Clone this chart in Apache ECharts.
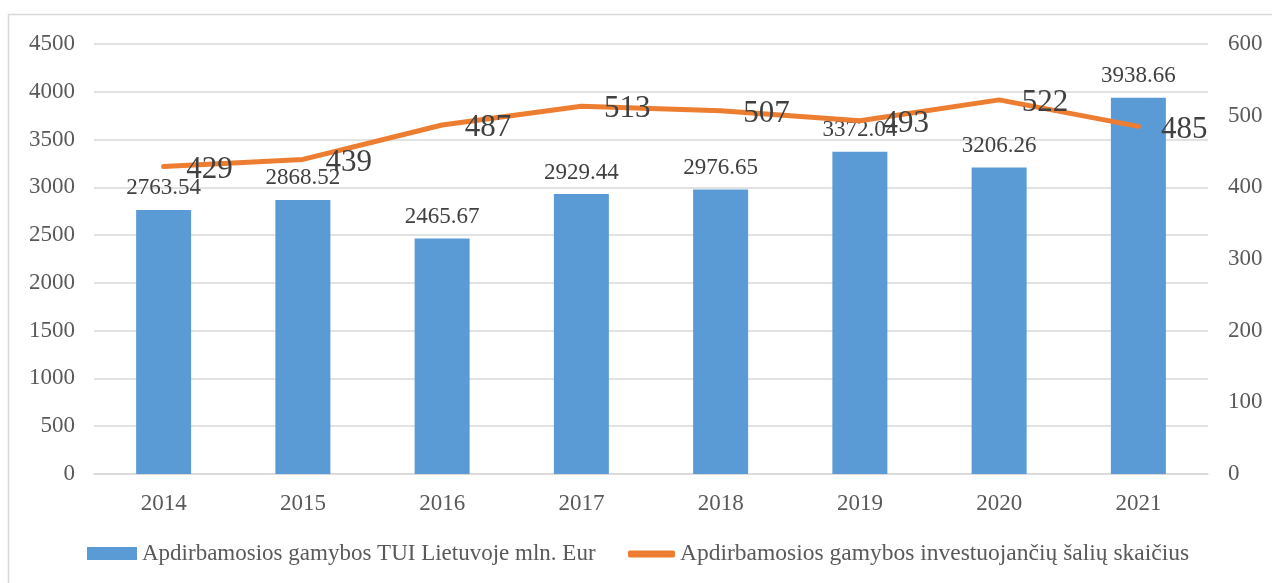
<!DOCTYPE html>
<html>
<head>
<meta charset="utf-8">
<script src="https://cdn.jsdelivr.net/npm/echarts@6/dist/echarts.min.js"></script>
<style>
  html, body { margin: 0; padding: 0; background: #fff; }
  #chart { width: 1272px; height: 583px; }
</style>
</head>
<body>
<div id="chart"></div>
<script>
var years = ['2014', '2015', '2016', '2017', '2018', '2019', '2020', '2021'];
var tuiValues = [2763.54, 2868.52, 2465.67, 2929.44, 2976.65, 3372.04, 3206.26, 3938.66];
var countryCounts = [429, 439, 487, 513, 507, 493, 522, 485];
var barName = 'Apdirbamosios gamybos TUI Lietuvoje mln. Eur';
var lineName = 'Apdirbamosios gamybos investuojančių šalių skaičius';

var font = '"Liberation Serif", "Times New Roman", serif';
var chart = echarts.init(document.getElementById('chart'));

var option = {
    animation: false,
    textStyle: { fontFamily: font },
    graphic: [{
        type: 'rect',
        shape: { x: 8.5, y: 14.5, width: 1275, height: 580 },
        style: { fill: 'none', stroke: '#d9d9d9', lineWidth: 1.5 },
        silent: true
    }],
    grid: { left: 94, right: 64, top: 44, bottom: 109 },
    legend: [
        {
            data: [{ name: barName, icon: 'rect' }],
            left: 87, top: 542, padding: 0,
            itemWidth: 50, itemHeight: 13,
            textStyle: { fontFamily: font, fontSize: 23, color: '#595959' }
        },
        {
            data: [{ name: lineName, icon: 'roundRect' }],
            left: 628, top: 542, padding: 0,
            itemWidth: 47, itemHeight: 7,
            textStyle: { fontFamily: font, fontSize: 23.5, color: '#595959' }
        }
    ],
    xAxis: {
        type: 'category',
        data: years,
        axisTick: { show: false },
        axisLine: { lineStyle: { color: '#d9d9d9', width: 1.5 } },
        axisLabel: { fontFamily: font, fontSize: 23, color: '#595959', margin: 18 }
    },
    yAxis: [
        {
            type: 'value', min: 0, max: 4500, interval: 500,
            axisLine: { show: false }, axisTick: { show: false },
            axisLabel: {
                fontFamily: font, fontSize: 23, color: '#595959', margin: 19,
                formatter: function (v) { return String(v); }
            },
            splitLine: { lineStyle: { color: '#d9d9d9', width: 1.5 } }
        },
        {
            type: 'value', min: 0, max: 600, interval: 100,
            axisLine: { show: false }, axisTick: { show: false },
            axisLabel: {
                fontFamily: font, fontSize: 23, color: '#595959', margin: 20,
                formatter: function (v) { return String(v); }
            },
            splitLine: { show: false }
        }
    ],
    series: [
        {
            name: barName,
            type: 'bar',
            data: tuiValues,
            barWidth: 55,
            itemStyle: { color: '#5b9bd5' },
            label: {
                show: true, position: 'top', distance: 10,
                fontFamily: font, fontSize: 23, color: '#404040',
                formatter: function (p) { return p.value.toFixed(2); }
            }
        },
        {
            name: lineName,
            type: 'line',
            yAxisIndex: 1,
            data: countryCounts,
            symbol: 'circle',
            symbolSize: 1,
            itemStyle: { color: '#ed7d31' },
            lineStyle: { color: '#ed7d31', width: 5, cap: 'round', join: 'round' },
            label: {
                show: true, position: 'right', distance: 22, offset: [0, 3],
                fontFamily: font, fontSize: 31, color: '#404040'
            },
            z: 3
        }
    ]
};
chart.setOption(option);
</script>
</body>
</html>
